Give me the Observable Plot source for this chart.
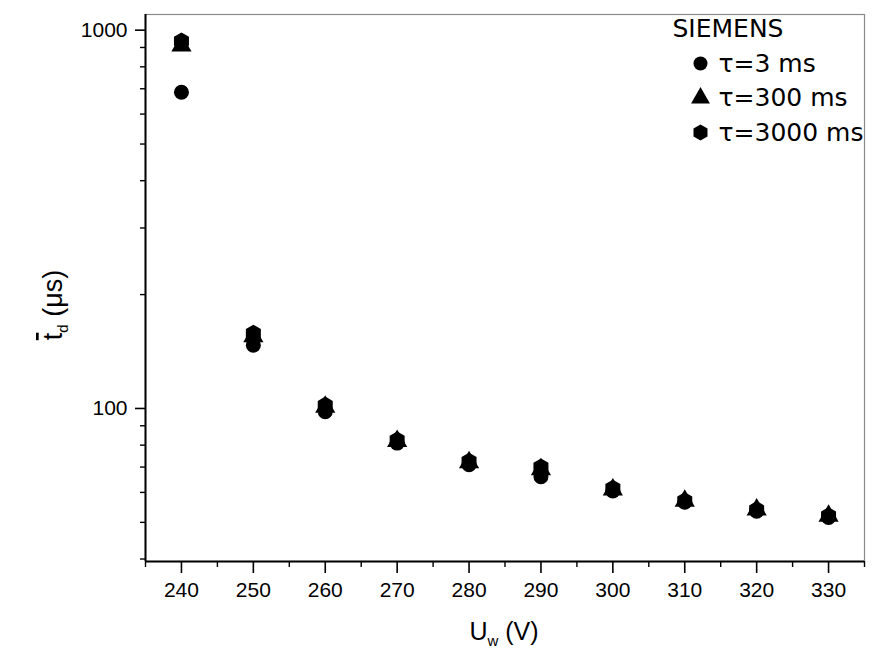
<!DOCTYPE html>
<html>
<head>
<meta charset="utf-8">
<script src="https://cdn.jsdelivr.net/npm/d3@7"></script>
<script src="https://cdn.jsdelivr.net/npm/@observablehq/plot@0.6"></script>
<style>
  html, body { margin: 0; padding: 0; background: #fff; }
  #chart { width: 883px; height: 653px; }
</style>
</head>
<body>
<div id="chart"></div>
<script>
// ---- data ----
const voltages = [240, 250, 260, 270, 280, 290, 300, 310, 320, 330];
const tau3    = [685, 147, 98, 81, 71, 66, 60.5, 56.5, 53.5, 51.5];
const tau300  = [910, 155, 101, 82, 72, 69, 61, 57, 54, 52];
const tau3000 = [935, 158, 102, 82.5, 72.5, 70, 61.5, 57, 54, 52];
const seriesNames = ["τ=3 ms", "τ=300 ms", "τ=3000 ms"];
const seriesSymbols = ["circle", "triangle", "hexagon"];
const legendTitle = "SIEMENS";
const xMajorTicks = [240, 250, 260, 270, 280, 290, 300, 310, 320, 330];
const xMinorTicks = [235, 245, 255, 265, 275, 285, 295, 305, 315, 325, 335];
const yMajorTicks = [100, 1000];
const yMinorTicks = [40, 50, 60, 70, 80, 90, 200, 300, 400, 500, 600, 700, 800, 900];
const xDomain = [235, 335];
const yDomain = [39.4, 1100];

const seriesValues = [tau3, tau300, tau3000];
const rows = [];
seriesValues.forEach((vals, si) => {
  vals.forEach((v, i) => rows.push({U: voltages[i], t: v, series: seriesNames[si]}));
});

const font = "'Liberation Sans', Arial, sans-serif";
const legendFont = "'DejaVu Sans', sans-serif";

const legendMarks = [];
legendMarks.push(Plot.text([legendTitle], {
  text: d => d, frameAnchor: "top-right", dx: -192, dy: 14,
  textAnchor: "start", lineAnchor: "middle", fontSize: 25, fontFamily: legendFont, fill: "black"
}));
seriesNames.forEach((name, i) => {
  legendMarks.push(Plot.dot([name], {
    frameAnchor: "top-right", dx: -164, dy: 49 + i * 34.5,
    symbol: seriesSymbols[i], r: 7, fill: "black", stroke: "none"
  }));
  legendMarks.push(Plot.text([name], {
    text: d => d, frameAnchor: "top-right", dx: -146, dy: 49 + i * 34.5,
    textAnchor: "start", lineAnchor: "middle", fontSize: 25, fontFamily: legendFont, fill: "black"
  }));
});

const chart = Plot.plot({
  width: 883,
  height: 653,
  marginLeft: 145,
  marginRight: 19,
  marginTop: 14,
  marginBottom: 92,
  style: {fontFamily: font, color: "black", background: "white"},
  x: {domain: xDomain, label: null},
  y: {type: "log", domain: yDomain, label: null},
  symbol: {domain: seriesNames, range: seriesSymbols},
  marks: [
    Plot.frame({stroke: "#8a8a8a", strokeWidth: 1.2}),
    Plot.ruleX([xDomain[0]], {stroke: "black", strokeWidth: 2}),
    Plot.ruleY([yDomain[0]], {stroke: "black", strokeWidth: 2}),
    Plot.axisX({ticks: xMajorTicks, tickSize: 12, tickPadding: 9, fontSize: 21, strokeWidth: 1.6, label: null, tickFormat: d => String(d)}),
    Plot.axisX({ticks: xMinorTicks, tickSize: 6, strokeWidth: 1.4, label: null, tickFormat: () => ""}),
    Plot.axisY({ticks: yMajorTicks, tickSize: 10, tickPadding: 8, fontSize: 21, strokeWidth: 1.6, label: null, tickFormat: d => String(d)}),
    Plot.axisY({ticks: yMinorTicks, tickSize: 5, strokeWidth: 1.4, label: null, tickFormat: () => ""}),
    Plot.dot(rows, {x: "U", y: "t", symbol: "series", r: 7.5, fill: "black", stroke: "none"}),
    ...legendMarks
  ]
});

const svg = d3.select(chart);
// x axis title
const xt = svg.append("text")
  .attr("x", 504).attr("y", 640)
  .attr("text-anchor", "middle")
  .attr("font-family", font).attr("font-size", 25).attr("fill", "black");
xt.append("tspan").text("U");
xt.append("tspan").attr("font-size", 15).attr("dy", 6).text("w");
xt.append("tspan").attr("dy", -6).text(" (V)");

// y axis title
const yt = svg.append("text")
  .attr("transform", "translate(62,305) rotate(-90)")
  .attr("text-anchor", "middle")
  .attr("font-family", font).attr("font-size", 27).attr("fill", "black");
yt.append("tspan").style("text-decoration", "overline").text("t");
yt.append("tspan").attr("font-size", 15).attr("dy", 6).text("d");
yt.append("tspan").attr("dy", -6).text(" (μs)");

document.getElementById("chart").appendChild(chart);
</script>
</body>
</html>
